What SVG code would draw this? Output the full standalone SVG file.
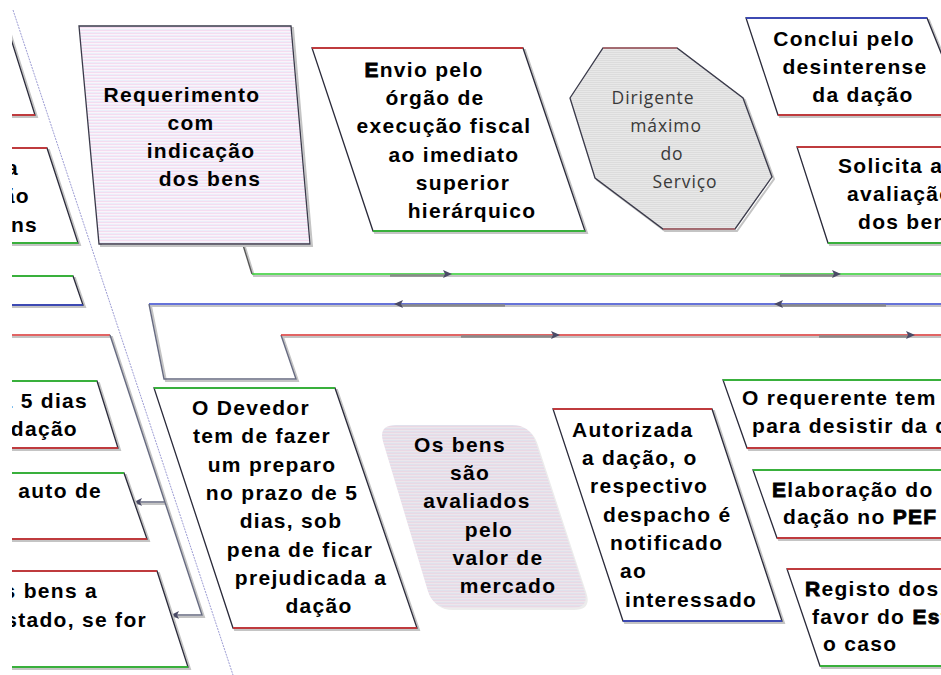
<svg xmlns="http://www.w3.org/2000/svg" width="941" height="675" viewBox="0 0 941 675">
<defs>
<style>
.t{font-family:"Liberation Sans",Arial,sans-serif;font-size:21px;font-weight:bold;letter-spacing:1.3px;fill:#000}
.m{text-anchor:middle}
.e{text-anchor:end}
.g{font-family:"Open Sans","DejaVu Sans",sans-serif;font-size:17.5px;fill:#3a3a3a;letter-spacing:0.9px;text-anchor:middle}
.hb{stroke:#000;stroke-width:0.8}
.box{fill:#fff;stroke:#2a2a3a;stroke-width:1.3}
.sh{fill:none;stroke:#c4c4c4;stroke-width:2}
.eg{stroke:#2ecc2e;stroke-width:1.6;fill:none}
.er{stroke:#e03030;stroke-width:1.6;fill:none}
.eb{stroke:#3344cc;stroke-width:1.6;fill:none}
.ln{fill:none;stroke-width:1.4}
.ash{stroke:#8a8a8a;stroke-width:2.6}
.ah{fill:#4a4a66}
</style>
<pattern id="pinkStripe" width="4" height="3" patternUnits="userSpaceOnUse">
<rect width="4" height="3" fill="#fbf3fa"/>
<rect width="4" height="1" fill="#f4dcf0"/>
<rect y="2" width="4" height="1" fill="#ebeef9"/>
</pattern>
<pattern id="grayStripe" width="4" height="2" patternUnits="userSpaceOnUse">
<rect width="4" height="2" fill="#e8e8e8"/>
<rect width="4" height="1" fill="#dcdcdc"/>
</pattern>
<pattern id="mauveStripe" width="4" height="3" patternUnits="userSpaceOnUse">
<rect width="4" height="3" fill="#ece6ec"/>
<rect width="4" height="1" fill="#ead8e4"/>
<rect y="2" width="4" height="1" fill="#e0e1ec"/>
</pattern>
<clipPath id="frame"><rect x="12" y="0" width="929" height="675"/></clipPath>
</defs>
<rect width="941" height="675" fill="#fff"/>
<g clip-path="url(#frame)">

<!-- diagonal dotted line -->
<line x1="13" y1="10" x2="233" y2="675" stroke="#9c9cd4" stroke-width="1" stroke-dasharray="2,1"/>

<!-- connectors -->
<g id="connectors">
  <path class="sh" d="M245,247 L254,276 L941,276"/>
  <path class="sh" d="M941,306 L151,306 L166,381 L298,381 L283,337 L941,337"/>
  <path class="sh" d="M12,337 L112,337 L204,617 L174,617 M167,504 L137,504"/>
  <path class="ln" stroke="#555" d="M243,245 L252,274"/>
  <path class="ln" stroke="#2ecc2e" d="M252,274 L941,274"/>
  <line class="ash" x1="390" y1="275.5" x2="446" y2="275.5"/>
  <line class="ash" x1="780" y1="275.5" x2="835" y2="275.5"/>
  <polygon class="ah" points="452,274 443,270 445,274 443,278"/>
  <polygon class="ah" points="841,274 832,270 834,274 832,278"/>
  <path class="ln" stroke="#3344cc" d="M941,304 L149,304"/>
  <path class="ln" stroke="#666a80" d="M149,304 L164,379 L296,379 L281,335"/>
  <path class="ln" stroke="#d83030" d="M281,335 L941,335"/>
  <line class="ash" x1="400" y1="305.5" x2="505" y2="305.5"/>
  <line class="ash" x1="780" y1="305.5" x2="886" y2="305.5"/>
  <polygon class="ah" points="394,304 403,300 401,304 403,308"/>
  <polygon class="ah" points="774,304 783,300 781,304 783,308"/>
  <line class="ash" x1="461" y1="336.5" x2="553" y2="336.5"/>
  <line class="ash" x1="819" y1="336.5" x2="908" y2="336.5"/>
  <polygon class="ah" points="560,335 551,331 553,335 551,339"/>
  <polygon class="ah" points="915,335 906,331 908,335 906,339"/>
  <path class="ln" stroke="#d83030" d="M12,335 L110,335"/>
  <path class="ln" stroke="#666a80" d="M110,335 L202,615 L172,615 M165,502 L135,502"/>
  <polygon class="ah" points="134,502 142,498 140,502 142,506"/>
  <polygon class="ah" points="171,615 179,611 177,615 179,619"/>
</g>

<!-- left column partial nodes -->
<g id="left1">
  <polygon class="sh" transform="translate(2,2)" points="-50,20 5,20 35,115 -20,115"/>
  <polygon class="box" points="-50,20 5,20 35,115 -20,115"/>
  <line class="er" x1="-20" y1="115" x2="35" y2="115"/>
</g>
<g id="left2">
  <polygon class="sh" transform="translate(2,2)" points="-50,148 47,148 78,243 -20,243"/>
  <polygon class="box" points="-50,148 47,148 78,243 -20,243"/>
  <line class="er" x1="-50" y1="148" x2="47" y2="148"/>
  <line class="eg" x1="-20" y1="243" x2="78" y2="243"/>
  <text class="t e" x="19" y="175">a</text>
  <text class="t e" x="30" y="203">ão</text>
  <text class="t e" x="38" y="232">ens</text>
</g>
<g id="left3">
  <polygon class="sh" transform="translate(2,2)" points="-50,276 73,276 83,305 -40,305"/>
  <polygon class="box" points="-50,276 73,276 83,305 -40,305"/>
  <line class="eg" x1="-50" y1="276" x2="73" y2="276"/>
  <line class="eb" x1="-40" y1="305" x2="83" y2="305"/>
</g>
<g id="left4">
  <polygon class="sh" transform="translate(2,2)" points="-50,381 97,381 118,448 -30,448"/>
  <polygon class="box" points="-50,381 97,381 118,448 -30,448"/>
  <line class="eg" x1="-50" y1="381" x2="97" y2="381"/>
  <line class="er" x1="-30" y1="448" x2="118" y2="448"/>
  <text class="t e" x="88" y="408">a 5 dias</text>
  <text class="t e" x="78" y="436">dação</text>
</g>
<g id="left5">
  <polygon class="sh" transform="translate(2,2)" points="-50,473 124,473 147,539 -30,539"/>
  <polygon class="box" points="-50,473 124,473 147,539 -30,539"/>
  <line class="eg" x1="-50" y1="473" x2="124" y2="473"/>
  <line class="er" x1="-30" y1="539" x2="147" y2="539"/>
  <text class="t e" x="102" y="498">o auto de</text>
</g>
<g id="left6">
  <polygon class="sh" transform="translate(2,2)" points="-50,571 157,571 188,667 -30,667"/>
  <polygon class="box" points="-50,571 157,571 188,667 -30,667"/>
  <line class="er" x1="-50" y1="571" x2="157" y2="571"/>
  <line class="eg" x1="-30" y1="667" x2="188" y2="667"/>
  <text class="t e" x="98" y="598">os bens a</text>
  <text class="t e" x="147" y="627">Estado, se for</text>
</g>

<!-- Requerimento -->
<g id="requerimento">
  <polygon class="sh" transform="translate(2,2)" points="79,26 291,26 310,244 99,244"/>
  <polygon points="79,26 291,26 310,244 99,244" fill="url(#pinkStripe)" stroke="#3a3a4a" stroke-width="1.3"/>
  <text class="t m" x="182" y="102">Requerimento</text>
  <text class="t m" x="191" y="130">com</text>
  <text class="t m" x="201" y="158">indicação</text>
  <text class="t m" x="210" y="186">dos bens</text>
</g>

<!-- Envio -->
<g id="envio">
  <polygon class="sh" transform="translate(2,2)" points="312,48 523,48 585,231 373,231"/>
  <polygon class="box" points="312,48 523,48 585,231 373,231"/>
  <line class="er" x1="312" y1="48" x2="523" y2="48"/>
  <line class="eg" x1="373" y1="231" x2="585" y2="231"/>
  <text class="t m" x="424" y="77"><tspan class="hb">E</tspan>nvio pelo</text>
  <text class="t m" x="435" y="105">órgão de</text>
  <text class="t m" x="444" y="133">execução fiscal</text>
  <text class="t m" x="454" y="162">ao imediato</text>
  <text class="t m" x="463" y="190">superior</text>
  <text class="t m" x="472" y="218">hierárquico</text>
</g>

<!-- Dirigente (octagon) -->
<g id="dirigente">
  <polygon class="sh" transform="translate(2,2)" points="603,48 677,48 743,98 772,177 735,229 663,229 595,178 570,98"/>
  <polygon points="603,48 677,48 743,98 772,177 735,229 663,229 595,178 570,98" fill="url(#grayStripe)" stroke="#3a3a4a" stroke-width="1.3"/>
  <line stroke="#e07070" stroke-width="1.2" x1="603" y1="48" x2="677" y2="48"/>
  <line stroke="#e07070" stroke-width="1.2" x1="663" y1="229" x2="735" y2="229"/>
  <text class="g" x="653" y="104">Dirigente</text>
  <text class="g" x="666" y="132">máximo</text>
  <text class="g" x="672" y="160">do</text>
  <text class="g" x="685" y="188">Serviço</text>
</g>

<!-- Conclui -->
<g id="conclui">
  <polygon class="sh" transform="translate(2,2)" points="746,18 927,18 966,115 778,115"/>
  <polygon class="box" points="746,18 927,18 966,115 778,115"/>
  <line class="eb" x1="746" y1="18" x2="927" y2="18"/>
  <line class="er" x1="778" y1="115" x2="966" y2="115"/>
  <text class="t m" x="844" y="46">Conclui pelo</text>
  <text class="t m" x="855" y="74">desinterense</text>
  <text class="t m" x="863" y="102">da dação</text>
</g>

<!-- Solicita -->
<g id="solicita">
  <polygon class="sh" transform="translate(2,2)" points="797,147 1000,147 1031,243 828,243"/>
  <polygon class="box" points="797,147 1000,147 1031,243 828,243"/>
  <line class="er" x1="797" y1="147" x2="1000" y2="147"/>
  <line class="eg" x1="828" y1="243" x2="1031" y2="243"/>
  <text class="t" x="838" y="173">Solicita a</text>
  <text class="t" x="847" y="201">avaliação</text>
  <text class="t" x="858" y="229">dos bens</text>
</g>

<!-- O Devedor -->
<g id="devedor">
  <polygon class="sh" transform="translate(2,2)" points="154,388 335,388 417,628 233,628"/>
  <polygon class="box" points="154,388 335,388 417,628 233,628"/>
  <line class="eg" x1="154" y1="388" x2="335" y2="388"/>
  <line class="er" x1="233" y1="628" x2="417" y2="628"/>
  <text class="t m" x="251" y="415">O Devedor</text>
  <text class="t m" x="262" y="443">tem de fazer</text>
  <text class="t m" x="272" y="472">um preparo</text>
  <text class="t m" x="282" y="500">no prazo de 5</text>
  <text class="t m" x="291" y="528">dias, sob</text>
  <text class="t m" x="300" y="557">pena de ficar</text>
  <text class="t m" x="311" y="585">prejudicada a</text>
  <text class="t m" x="319" y="613">dação</text>
</g>

<!-- Os bens -->
<g id="avaliados">
  <path d="M398,427 L514,427 Q532,427 537.6,444 L586.4,593 Q592,610 574,610 L453,610 Q435,610 429.8,593 L385.2,444 Q380,427 398,427 Z" fill="#ececec"/>
  <path d="M396,425 L512,425 Q530,425 535.6,442.1 L584.4,590.9 Q590,608 572,608 L451,608 Q433,608 427.8,590.8 L383.2,442.2 Q378,425 396,425 Z" fill="url(#mauveStripe)"/>
  <text class="t m" x="460" y="452">Os bens</text>
  <text class="t m" x="470" y="480">são</text>
  <text class="t m" x="477" y="508">avaliados</text>
  <text class="t m" x="489" y="537">pelo</text>
  <text class="t m" x="498" y="565">valor de</text>
  <text class="t m" x="508" y="593">mercado</text>
</g>

<!-- Autorizada -->
<g id="autorizada">
  <polygon class="sh" transform="translate(2,2)" points="553,409 712,409 782,621 623,621"/>
  <polygon class="box" points="553,409 712,409 782,621 623,621"/>
  <line class="er" x1="553" y1="409" x2="712" y2="409"/>
  <line class="eb" x1="623" y1="621" x2="782" y2="621"/>
  <text class="t" x="572" y="437">Autorizada</text>
  <text class="t" x="582" y="465">a dação, o</text>
  <text class="t" x="590" y="493">respectivo</text>
  <text class="t" x="603" y="522">despacho é</text>
  <text class="t" x="610" y="550">notificado</text>
  <text class="t" x="620" y="578">ao</text>
  <text class="t" x="625" y="607">interessado</text>
</g>

<!-- O requerente -->
<g id="desistir">
  <polygon class="sh" transform="translate(2,2)" points="723,380 1000,380 1022,448 747,448"/>
  <polygon class="box" points="723,380 1000,380 1022,448 747,448"/>
  <line class="eg" x1="723" y1="380" x2="1000" y2="380"/>
  <line class="er" x1="747" y1="448" x2="1022" y2="448"/>
  <text class="t" x="742" y="405">O requerente tem</text>
  <text class="t" x="752" y="433">para desistir da dação</text>
</g>

<!-- Elaboração -->
<g id="elaboracao">
  <polygon class="sh" transform="translate(2,2)" points="753,470 1000,470 1022,538 777,538"/>
  <polygon class="box" points="753,470 1000,470 1022,538 777,538"/>
  <line class="eg" x1="753" y1="470" x2="1000" y2="470"/>
  <line class="er" x1="777" y1="538" x2="1022" y2="538"/>
  <text class="t" x="772" y="497"><tspan class="hb">E</tspan>laboração do</text>
  <text class="t" x="783" y="524">dação no <tspan class="hb">PEF</tspan></text>
</g>

<!-- Registo -->
<g id="registo">
  <polygon class="sh" transform="translate(2,2)" points="787,569 1000,569 1032,666 820,666"/>
  <polygon class="box" points="787,569 1000,569 1032,666 820,666"/>
  <line class="er" x1="787" y1="569" x2="1000" y2="569"/>
  <line class="eg" x1="820" y1="666" x2="1032" y2="666"/>
  <text class="t" x="805" y="596"><tspan class="hb">R</tspan>egisto dos</text>
  <text class="t" x="812" y="624">favor do <tspan class="hb">Es</tspan>tado</text>
  <text class="t" x="823" y="651">o caso</text>
</g>

</g>
</svg>
